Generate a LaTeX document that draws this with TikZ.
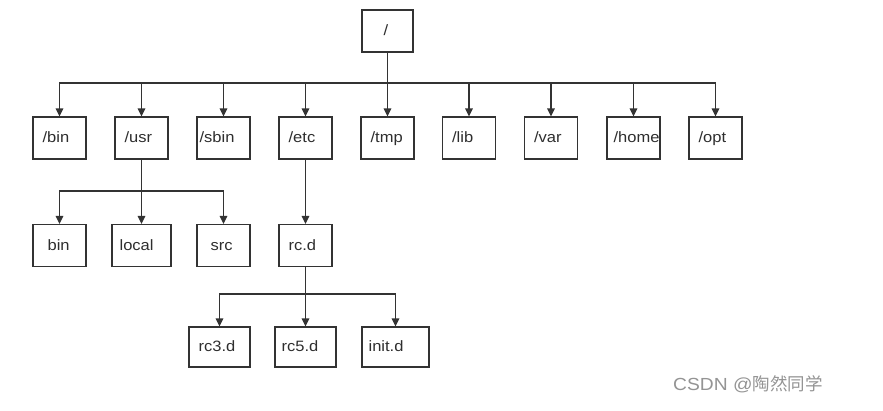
\documentclass[tikz,border=0pt]{standalone}
\usepackage{fontspec}
\setmainfont{Liberation Sans}[FakeStretch=1.1]
\newfontfamily\cjkfont{Noto Sans CJK SC}
\usetikzlibrary{arrows.meta}
\begin{document}
\begin{tikzpicture}[x=1pt,y=-1pt,
  box/.style={draw=black!80, line width=1.1pt, minimum width=#1, minimum height=42pt, inner sep=0pt},
  box/.default=53pt,
  lbl/.style={anchor=base west, inner sep=0pt, text=black!82, font=\fontsize{15}{17}\selectfont},
  arr/.style={draw=black!80, line width=1.2pt, -{Triangle[length=8pt,width=7.5pt]}}]
\useasboundingbox[fill=white] (0,0) rectangle (883,411);

% root
\node[box=51pt] (root) at (387.5,31) {};
\node[lbl] at ([xshift=22pt,yshift=-5pt]root.west) {/};

% level 1
\foreach \n/\x/\t/\p in {bin/59.5/\slash bin/10, usr/141.5/\slash usr/10, sbin/223.5/\slash sbin/3, etc/305.5/\slash etc/10,
  tmp/387.5/\slash tmp/10, lib/469/\slash lib/10, var/551/\slash var/10, home/633.5/\slash home/7, opt/715.5/\slash opt/10}{
  \node[box] (\n) at (\x,138) {};
  \node[lbl] at ([xshift=\p pt,yshift=-5pt]\n.west) {\t};
}
\coordinate (bus1) at (0,83);
\foreach \n in {bin,usr,sbin,etc,tmp,lib,var,home,opt}{
  \draw[arr] (root.south) -- (root.south |- bus1) -| (\n.north);
}

% level 2 under /usr
\node[box] (ubin) at (59.5,245.5) {};
\node[lbl] at ([xshift=15pt,yshift=-5pt]ubin.west) {bin};
\node[box=59pt] (local) at (141.5,245.5) {};
\node[lbl] at ([xshift=8pt,yshift=-5pt]local.west) {local};
\node[box] (src) at (223.5,245.5) {};
\node[lbl] at ([xshift=14pt,yshift=-5pt]src.west) {src};
\coordinate (bus2) at (0,191);
\foreach \n in {ubin,local,src}{
  \draw[arr] (usr.south) -- (usr.south |- bus2) -| (\n.north);
}

% rc.d
\node[box] (rcd) at (305.5,245.5) {};
\node[lbl] at ([xshift=10pt,yshift=-5pt]rcd.west) {rc.d};
\draw[arr] (etc.south) -- (rcd.north);

% level 3
\node[box=61pt, minimum height=40pt] (rc3) at (219.5,347) {};
\node[lbl] at ([xshift=10pt,yshift=-5pt]rc3.west) {rc3.d};
\node[box=61pt, minimum height=40pt] (rc5) at (305.5,347) {};
\node[lbl] at ([xshift=7pt,yshift=-5pt]rc5.west) {rc5.d};
\node[box=67pt, minimum height=40pt] (initd) at (395.5,347) {};
\node[lbl] at ([xshift=7pt,yshift=-5pt]initd.west) {init.d};
\coordinate (bus3) at (0,294);
\foreach \n in {rc3,rc5,initd}{
  \draw[arr] (rcd.south) -- (rcd.south |- bus3) -| (\n.north);
}

% watermark
\node[anchor=west, inner sep=0pt, text=black!42, font=\fontsize{17.5}{19}\selectfont] (wm) at (673,384) {CSDN @{\cjkfont 陶然同学}};
\end{tikzpicture}
\end{document}
